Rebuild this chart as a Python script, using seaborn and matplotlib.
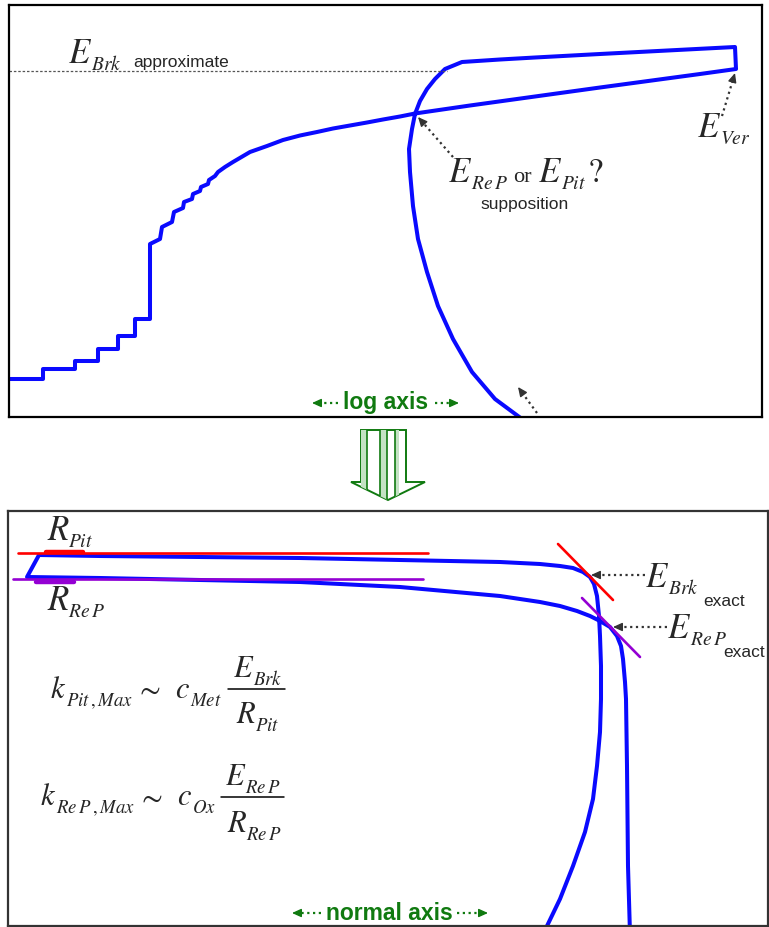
import numpy as np
import pandas as pd
import matplotlib
matplotlib.use("Agg")
import matplotlib.pyplot as plt
import seaborn as sns
from matplotlib.patches import Polygon

# ---------------- data (diagram coordinates, pixel based) ----------------
# top panel: polarisation loop on a log current axis
top_loop_x = [9, 43, 43, 75, 75, 98, 98, 118, 118, 135,
              135, 150, 150, 160, 162, 172, 174, 183, 184, 192,
              193, 200, 201, 208, 209, 215, 218, 225, 233, 250,
              267, 283, 300, 317, 333, 350, 367, 383, 400, 415,
              470, 535, 600, 700, 736, 735, 600, 535, 500, 462,
              445, 435, 427, 420, 415, 412, 409, 410, 413, 418,
              427, 438, 453, 472, 495, 522, 525]
top_loop_y = [380, 380, 370, 370, 362, 362, 350, 350, 337, 337,
              320, 320, 245, 240, 228, 223, 213, 209, 203, 200,
              195, 192, 188, 185, 181, 177, 173, 168, 163, 153,
              147, 141, 136.5, 133, 129.5, 126.5, 123.5, 120.5, 117.5, 114.5,
              106.5, 97.5, 88.5, 75, 70, 48, 55, 58.5, 60.5, 63,
              70, 80, 90, 102, 115, 130, 150, 173, 207, 240,
              273, 307, 340, 373, 400, 420, 424]
brk_approx_level = 72
brk_approx_span = [9, 447]

# bottom panel: same loop on a normal current axis
bot_loop_x = [544, 547, 560, 573, 585, 593, 597, 600, 601, 601,
              600, 599, 597, 594, 590, 583, 573, 560, 540, 500,
              400, 300, 200, 100, 39, 27, 100, 200, 300, 400,
              500, 540, 560, 577, 590, 600, 610, 617, 621, 623,
              625, 626, 627, 628, 630]
bot_loop_y = [935, 927, 900, 867, 833, 800, 767, 733, 700, 667,
              637, 617, 597, 585, 578, 573, 569, 567, 565, 563,
              561, 559, 558, 557, 556, 578, 579, 581, 583, 588,
              597, 603, 607, 612, 617, 622, 628, 637, 647, 660,
              683, 700, 767, 867, 935]
r_pit_x = [18, 428]
r_pit_y = [554, 554]
r_pit_mark_x = [46, 83]
r_rep_x = [13, 423]
r_rep_y = [580, 580]
r_rep_mark_x = [36, 74]
brk_tangent_x = [558, 613]
brk_tangent_y = [545, 601]
rep_tangent_x = [582, 640]
rep_tangent_y = [599, 658]

# ---------------- style ----------------
sns.set_style("white")
plt.rcParams["font.family"] = ["Liberation Sans", "DejaVu Sans"]
plt.rcParams["mathtext.fontset"] = "stix"

BLUE = "#0a0aff"
RED = "#ff0000"
PURPLE = "#9400d3"
GREEN = "#107a10"
GREY = "#333333"

W, H = 769, 928
fig = plt.figure(figsize=(W / 100, H / 100), dpi=100)
renderer = fig.canvas.get_renderer()


def add_panel(x0, y0, x1, y1, edge):
    ax = fig.add_axes([x0 / W, 1 - y1 / H, (x1 - x0) / W, (y1 - y0) / H])
    ax.set_xticks([])
    ax.set_yticks([])
    for s in ax.spines.values():
        s.set_color(edge)
        s.set_linewidth(1.6)
        s.set_visible(True)
    return ax, (x0, x1, y0, y1)


def finish(ax, lim):
    ax.set_xlim(lim[0], lim[1])
    ax.set_ylim(lim[3], lim[2])
    ax.set_xlabel("")
    ax.set_ylabel("")


def right_edge(ax, t):
    bb = t.get_window_extent(renderer)
    return ax.transData.inverted().transform((bb.x1, bb.y0))[0]


def sym(ax, x, y, main, sub, size=25, subsize=14, drop=7, gap=-1.5):
    """Italic symbol with a smaller, lowered italic subscript."""
    t = ax.text(x, y, "$" + main + "$", fontsize=size, ha="left", va="baseline")
    xr = right_edge(ax, t)
    s = ax.text(xr + gap, y + drop, "$" + sub + "$", fontsize=subsize,
                ha="left", va="baseline")
    return right_edge(ax, s)


def dotted_arrow(ax, start, tip, color=GREY, lw=1.6, hl=8):
    sx, sy = start
    tx, ty = tip
    d = np.hypot(tx - sx, ty - sy)
    ux, uy = (tx - sx) / d, (ty - sy) / d
    ax.plot([sx, tx - ux * hl * 0.6], [sy, ty - uy * hl * 0.6], color=color,
            lw=lw, linestyle=(0, (1, 1.6)), solid_capstyle="butt")
    ax.annotate("", xy=(tx, ty), xytext=(tx - ux * hl, ty - uy * hl),
                arrowprops=dict(arrowstyle="-|>,head_length=0.55,head_width=0.25",
                                color=color, lw=1.0, shrinkA=0, shrinkB=0))


# ---------------- top panel ----------------
axt, limt = add_panel(9, 6, 762, 418, "black")
sns.lineplot(x=top_loop_x, y=top_loop_y, sort=False, estimator=None,
             color=BLUE, linewidth=2.9, ax=axt)
axt.plot(brk_approx_span, [brk_approx_level] * 2, color="#555555", lw=0.9,
         linestyle=(0, (2, 1.5)))
finish(axt, limt)
fig.canvas.draw()

sym(axt, 68, 63, "E", "Brk")
axt.text(133, 67, "approximate", fontsize=12.5, ha="left", va="baseline")
sym(axt, 448, 182, "E", r"Re\,P")
axt.text(513, 182, "or", fontsize=16, family="Liberation Serif", ha="left", va="baseline")
xe = sym(axt, 538, 182, "E", "Pit")
axt.text(xe + 1, 182, r"$?$", fontsize=25, ha="left", va="baseline")
axt.text(525, 209, "supposition", fontsize=12.5, ha="center", va="baseline")
sym(axt, 697, 137, "E", "Ver")

dotted_arrow(axt, (453, 158), (418, 118))
dotted_arrow(axt, (722, 117), (735, 74))
dotted_arrow(axt, (537, 414), (518, 388))

axt.text(386, 409, "log axis", fontsize=16.5, fontweight="bold", color=GREEN,
         ha="center", va="baseline")
dotted_arrow(axt, (338, 404), (312, 404), color=GREEN, lw=1.6, hl=7)
dotted_arrow(axt, (435, 404), (459, 404), color=GREEN, lw=1.6, hl=7)

# ---------------- bottom panel ----------------
axb, limb = add_panel(8, 512, 768, 927, "#333333")
sns.lineplot(x=bot_loop_x, y=bot_loop_y, sort=False, estimator=None,
             color=BLUE, linewidth=2.9, ax=axb)
sns.lineplot(x=r_pit_x, y=r_pit_y, color=RED, linewidth=1.9, ax=axb)
sns.lineplot(x=r_pit_mark_x, y=[r_pit_y[0] - 1.5] * 2, color=RED, linewidth=3.2, ax=axb)
sns.lineplot(x=r_rep_x, y=r_rep_y, color=PURPLE, linewidth=1.9, ax=axb)
sns.lineplot(x=r_rep_mark_x, y=[r_rep_y[0] + 2.5] * 2, color=PURPLE, linewidth=3.2, ax=axb)
sns.lineplot(x=brk_tangent_x, y=brk_tangent_y, color=RED, linewidth=1.9, ax=axb)
sns.lineplot(x=rep_tangent_x, y=rep_tangent_y, color=PURPLE, linewidth=1.9, ax=axb)
finish(axb, limb)
fig.canvas.draw()

sym(axb, 47, 540, "R", "Pit")
sym(axb, 47, 610, "R", r"Re\,P")

sym(axb, 645, 587, "E", "Brk")
axb.text(703, 606, "exact", fontsize=12.5, ha="left", va="baseline")
sym(axb, 667, 638, "E", r"Re\,P")
axb.text(723, 657, "exact", fontsize=12.5, ha="left", va="baseline")
dotted_arrow(axb, (645, 576), (591, 576))
dotted_arrow(axb, (667, 628), (613, 628))

# k_Pit,Max ~ c_Met * E_Brk / R_Pit
FS, SS = 22, 13.5
sym(axb, 50, 698, "k", r"Pit\,,Max", FS, SS, 8, 0)
axb.text(148, 690, r"$\sim$", fontsize=FS, ha="center", va="center")
sym(axb, 175, 698, "c", "Met", FS, SS, 8, 0)
axb.plot([228, 285], [690, 690], color="black", lw=1.1)
sym(axb, 233, 677, "E", "Brk", FS, SS, 8)
sym(axb, 236, 723, "R", "Pit", FS, SS, 8)

# k_ReP,Max ~ c_Ox * E_ReP / R_ReP
sym(axb, 40, 805, "k", r"Re\,P\,,Max", FS, SS, 8, 0)
axb.text(150, 798, r"$\sim$", fontsize=FS, ha="center", va="center")
sym(axb, 177, 805, "c", "Ox", FS, SS, 8, 0)
axb.plot([221, 284], [798, 798], color="black", lw=1.1)
sym(axb, 225, 785, "E", r"Re\,P", FS, SS, 8)
sym(axb, 227, 832, "R", r"Re\,P", FS, SS, 8)

axb.text(389, 920, "normal axis", fontsize=16.5, fontweight="bold", color=GREEN,
         ha="center", va="baseline")
dotted_arrow(axb, (321, 914), (292, 914), color=GREEN, lw=1.6, hl=7)
dotted_arrow(axb, (457, 914), (488, 914), color=GREEN, lw=1.6, hl=7)

# ---------------- transition arrow between panels ----------------
axo = fig.add_axes([0, 0, 1, 1], zorder=-1)
axo.set_xlim(0, W)
axo.set_ylim(H, 0)
axo.axis("off")
arrow_pts = [(361, 431), (406, 431), (406, 483), (425, 483), (388, 501),
             (351, 483), (361, 483)]
poly = Polygon(arrow_pts, closed=True, facecolor="white", edgecolor=GREEN, lw=1.4)
axo.add_patch(poly)
for x0, x1 in [(361, 367), (380, 387), (395, 399)]:
    band = axo.fill_betweenx([431, 501], x0, x1, color="#c4e2c4", lw=0)
    band.set_clip_path(poly)
for xv in [367, 380, 387, 395]:
    ln, = axo.plot([xv, xv], [431, 501], color=GREEN, lw=1.2)
    ln.set_clip_path(poly)

fig.savefig("out.png", dpi=100, facecolor="white")
